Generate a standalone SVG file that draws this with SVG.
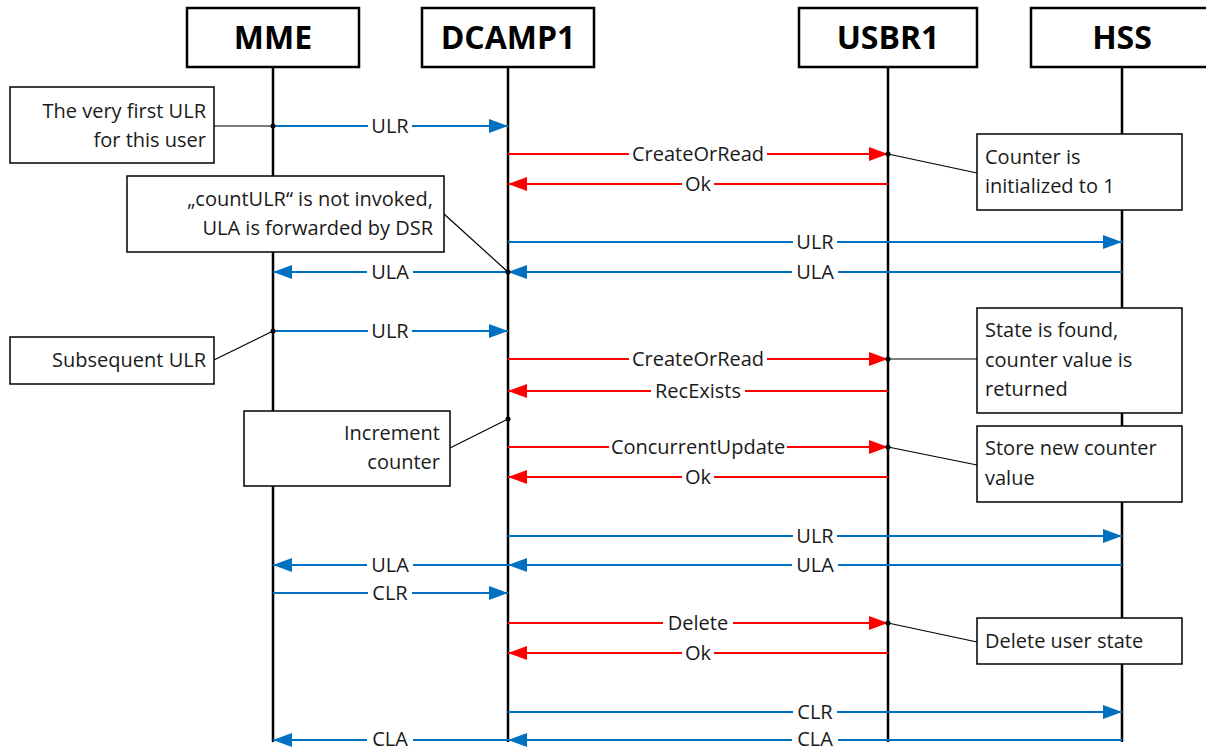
<svg xmlns="http://www.w3.org/2000/svg" width="1206" height="747" viewBox="0 0 1206 747">
<style>
.hdr{fill:#fff;stroke:#000;stroke-width:2.5}
.htx{font-family:"Open Sans",sans-serif;font-weight:bold;font-size:32px;text-anchor:middle;fill:#000}
.life{stroke:#000;stroke-width:2.5}
.note{fill:#fff;stroke:#000;stroke-width:1.5}
.ntx{font-family:"Open Sans",sans-serif;font-size:20px;fill:#1a1a1a}
.r{text-anchor:end}
.lnk{stroke:#000;stroke-width:1.2;fill:none}
.b{stroke:#0070C0;stroke-width:1.8;fill:none}
.rd{stroke:#FF0000;stroke-width:1.8;fill:none}
.bg{fill:#fff}
.lbl{font-family:"Open Sans",sans-serif;font-size:20px;fill:#1a1a1a;text-anchor:middle}
</style>
<defs>
<marker id="ab" markerUnits="userSpaceOnUse" markerWidth="20" markerHeight="14" refX="19" refY="7" orient="auto"><path d="M0,0 L19,7 L0,14 z" fill="#0070C0"/></marker>
<marker id="ar" markerUnits="userSpaceOnUse" markerWidth="20" markerHeight="14" refX="19" refY="7" orient="auto"><path d="M0,0 L19,7 L0,14 z" fill="#FF0000"/></marker>
</defs>
<rect width="1206" height="747" fill="#fff"/>
<g id="lifelines">
<line class="life" x1="273" y1="67" x2="273" y2="742"/>
<line class="life" x1="508" y1="67" x2="508" y2="742"/>
<line class="life" x1="888" y1="67" x2="888" y2="742"/>
<line class="life" x1="1122" y1="67" x2="1122" y2="742"/>
</g>
<g id="MME"><rect class="hdr" x="187" y="8" width="172" height="59"/><text class="htx" x="273" y="49">MME</text></g>
<g id="DCAMP1"><rect class="hdr" x="422" y="8" width="172" height="59"/><text class="htx" x="508" y="49">DCAMP1</text></g>
<g id="USBR1"><rect class="hdr" x="799" y="8" width="178" height="59"/><text class="htx" x="888" y="49">USBR1</text></g>
<g id="HSS"><rect class="hdr" x="1031" y="8" width="180" height="59"/><text class="htx" x="1122" y="49">HSS</text></g>
<g id="connectors">
<line class="b" x1="273" y1="126" x2="508" y2="126" marker-end="url(#ab)"/><rect class="bg" x="368" y="117" width="44" height="18"/><text class="lbl" x="390" y="133">ULR</text>
<line class="rd" x1="508" y1="154" x2="888" y2="154" marker-end="url(#ar)"/><rect class="bg" x="629" y="145" width="138" height="18"/><text class="lbl" x="698" y="161">CreateOrRead</text>
<line class="rd" x1="888" y1="184" x2="508" y2="184" marker-end="url(#ar)"/><rect class="bg" x="682" y="175" width="32" height="18"/><text class="lbl" x="698" y="191">Ok</text>
<line class="b" x1="508" y1="242" x2="1122" y2="242" marker-end="url(#ab)"/><rect class="bg" x="793" y="233" width="44" height="18"/><text class="lbl" x="815" y="249">ULR</text>
<line class="b" x1="1122" y1="272" x2="508" y2="272" marker-end="url(#ab)"/><rect class="bg" x="792" y="263" width="46" height="18"/><text class="lbl" x="815" y="279">ULA</text>
<line class="b" x1="508" y1="272" x2="273" y2="272" marker-end="url(#ab)"/><rect class="bg" x="367" y="263" width="46" height="18"/><text class="lbl" x="390" y="279">ULA</text>
<line class="b" x1="273" y1="331" x2="508" y2="331" marker-end="url(#ab)"/><rect class="bg" x="368" y="322" width="44" height="18"/><text class="lbl" x="390" y="338">ULR</text>
<line class="rd" x1="508" y1="359" x2="888" y2="359" marker-end="url(#ar)"/><rect class="bg" x="629" y="350" width="138" height="18"/><text class="lbl" x="698" y="366">CreateOrRead</text>
<line class="rd" x1="888" y1="391" x2="508" y2="391" marker-end="url(#ar)"/><rect class="bg" x="651" y="382" width="94" height="18"/><text class="lbl" x="698" y="398">RecExists</text>
<line class="rd" x1="508" y1="447" x2="888" y2="447" marker-end="url(#ar)"/><rect class="bg" x="609" y="438" width="178" height="18"/><text class="lbl" x="698" y="454">ConcurrentUpdate</text>
<line class="rd" x1="888" y1="477" x2="508" y2="477" marker-end="url(#ar)"/><rect class="bg" x="682" y="468" width="32" height="18"/><text class="lbl" x="698" y="484">Ok</text>
<line class="b" x1="508" y1="536" x2="1122" y2="536" marker-end="url(#ab)"/><rect class="bg" x="793" y="527" width="44" height="18"/><text class="lbl" x="815" y="543">ULR</text>
<line class="b" x1="1122" y1="565" x2="508" y2="565" marker-end="url(#ab)"/><rect class="bg" x="792" y="556" width="46" height="18"/><text class="lbl" x="815" y="572">ULA</text>
<line class="b" x1="508" y1="565" x2="273" y2="565" marker-end="url(#ab)"/><rect class="bg" x="367" y="556" width="46" height="18"/><text class="lbl" x="390" y="572">ULA</text>
<line class="b" x1="273" y1="593" x2="508" y2="593" marker-end="url(#ab)"/><rect class="bg" x="368" y="584" width="44" height="18"/><text class="lbl" x="390" y="600">CLR</text>
<line class="rd" x1="508" y1="623" x2="888" y2="623" marker-end="url(#ar)"/><rect class="bg" x="663" y="614" width="70" height="18"/><text class="lbl" x="698" y="630">Delete</text>
<line class="rd" x1="888" y1="653" x2="508" y2="653" marker-end="url(#ar)"/><rect class="bg" x="682" y="644" width="32" height="18"/><text class="lbl" x="698" y="660">Ok</text>
<line class="b" x1="508" y1="712" x2="1122" y2="712" marker-end="url(#ab)"/><rect class="bg" x="793" y="703" width="44" height="18"/><text class="lbl" x="815" y="719">CLR</text>
<line class="b" x1="1122" y1="740" x2="508" y2="740" marker-end="url(#ab)"/><rect class="bg" x="792" y="731" width="46" height="16"/><text class="lbl" x="815" y="746">CLA</text>
<line class="b" x1="508" y1="740" x2="273" y2="740" marker-end="url(#ab)"/><rect class="bg" x="367" y="731" width="46" height="16"/><text class="lbl" x="390" y="746">CLA</text>
</g>
<g id="note-links">
<line class="lnk" x1="214" y1="126" x2="273" y2="126"/>
<line class="lnk" x1="444" y1="214" x2="508" y2="272"/>
<line class="lnk" x1="888" y1="154" x2="977" y2="173"/>
<line class="lnk" x1="214" y1="360" x2="273" y2="331"/>
<line class="lnk" x1="888" y1="359" x2="977" y2="359"/>
<line class="lnk" x1="450" y1="448" x2="508" y2="419"/>
<line class="lnk" x1="888" y1="447" x2="977" y2="465"/>
<line class="lnk" x1="888" y1="623" x2="977" y2="642"/>
<circle cx="273" cy="126" r="2.5"/><circle cx="508" cy="272" r="2.5"/><circle cx="888" cy="154" r="2.5"/>
<circle cx="273" cy="331" r="2.5"/><circle cx="888" cy="359" r="2.5"/><circle cx="508" cy="419" r="2.5"/>
<circle cx="888" cy="447" r="2.5"/><circle cx="888" cy="623" r="2.5"/>
</g>
<g id="note-first-ulr"><rect class="note" x="10" y="87" width="204" height="76"/><text class="ntx r" x="206" y="118">The very first ULR</text><text class="ntx r" x="206" y="147">for this user</text></g>
<g id="note-countulr"><rect class="note" x="127" y="176" width="317" height="76"/><text class="ntx r" x="433" y="206">„countULR“ is not invoked,</text><text class="ntx r" x="433" y="235">ULA is forwarded by DSR</text></g>
<g id="note-counter-init"><rect class="note" x="977" y="134" width="205" height="76"/><text class="ntx" x="985" y="164">Counter is</text><text class="ntx" x="985" y="193">initialized to 1</text></g>
<g id="note-subsequent"><rect class="note" x="10" y="337" width="204" height="47"/><text class="ntx r" x="206" y="367">Subsequent ULR</text></g>
<g id="note-state-found"><rect class="note" x="977" y="308" width="205" height="105"/><text class="ntx" x="985" y="337">State is found,</text><text class="ntx" x="985" y="367">counter value is</text><text class="ntx" x="985" y="396">returned</text></g>
<g id="note-increment"><rect class="note" x="244" y="411" width="206" height="75"/><text class="ntx r" x="440" y="440">Increment</text><text class="ntx r" x="440" y="469">counter</text></g>
<g id="note-store"><rect class="note" x="977" y="426" width="205" height="76"/><text class="ntx" x="985" y="455">Store new counter</text><text class="ntx" x="985" y="485">value</text></g>
<g id="note-delete"><rect class="note" x="977" y="618" width="205" height="46"/><text class="ntx" x="985" y="648">Delete user state</text></g>
</svg>
